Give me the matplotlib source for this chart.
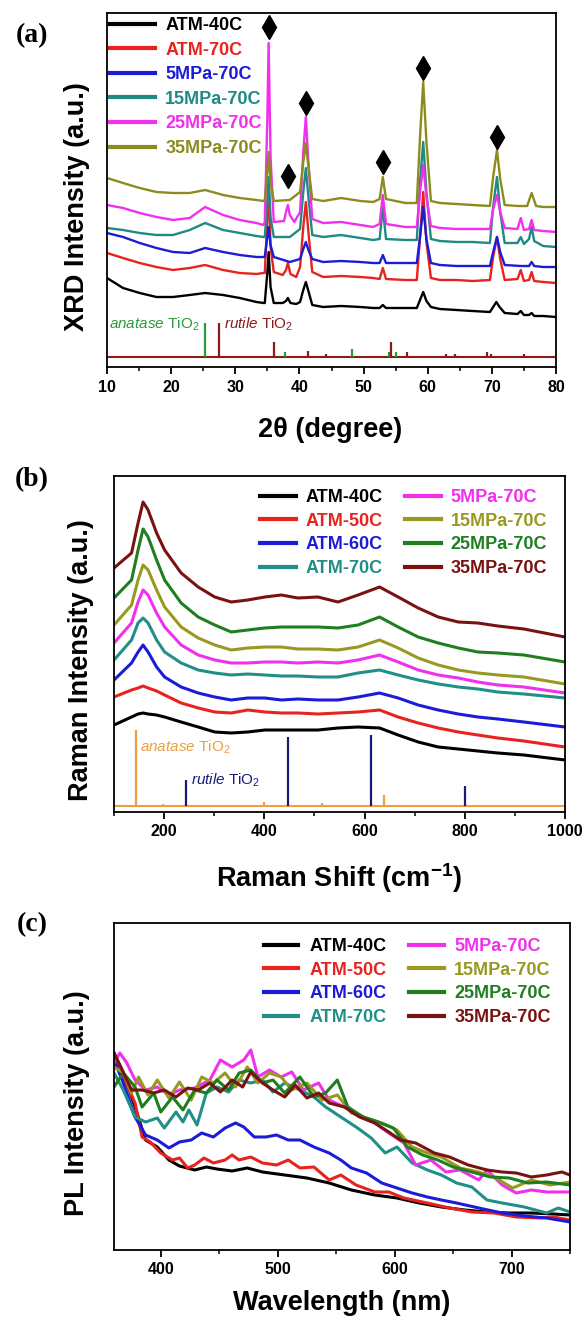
import matplotlib
matplotlib.use("Agg")
import matplotlib.pyplot as plt
from matplotlib.ticker import MultipleLocator

plt.rcParams["font.family"] = ["Liberation Sans", "DejaVu Sans"]
plt.rcParams["font.weight"] = "bold"
plt.rcParams["mathtext.fontset"] = "custom"
plt.rcParams["mathtext.rm"] = "Liberation Sans"
plt.rcParams["mathtext.it"] = "Liberation Sans:italic:normal"
plt.rcParams["mathtext.bf"] = "Liberation Sans:bold"
plt.rcParams["mathtext.default"] = "regular"

# ---------------- (a) XRD ----------------
xrd_labels = ["ATM-40C", "ATM-70C", "5MPa-70C", "15MPa-70C", "25MPa-70C", "35MPa-70C"]
xrd_colors = ["#000000", "#e8231f", "#1c1cd8", "#1f8a84", "#f030ec", "#8c8c1e"]

base_2t = [10, 12.5, 15.1, 17.7, 20.3, 22.9, 25.3, 28.1, 30.7, 33.3, 34.4]

atm40_2t = base_2t + [34.6, 35.0, 35.2, 35.5, 36.0, 37.4, 37.9, 38.2, 38.6, 39.5,
                      40.1, 40.6, 41.0, 41.4, 42.0, 43.7, 46.5, 49.5, 51.5, 52.5,
                      53.0, 53.5, 56.5, 58.3, 58.8, 59.3, 59.8, 60.5, 61.9, 64.5,
                      67.0, 69.7, 70.2, 70.7, 71.2, 72.0, 74.0, 74.5, 75.0, 75.8,
                      76.2, 76.6, 78.0, 80.0]
atm40_int = [89, 79, 74, 70, 70, 72, 74, 72, 69, 65, 64,
             64, 95, 115, 80, 64, 64, 66, 69, 64, 63,
             65, 77, 85, 76, 62, 60, 61, 60, 59, 59,
             62, 59, 59, 59, 67, 75, 66, 60, 58, 57,
             56, 55, 60, 65, 60, 54, 53, 56, 52, 52,
             54, 51, 51, 50]

atm70_2t = base_2t + [34.6, 35.0, 35.2, 35.5, 36.0, 37.4, 37.9, 38.2, 38.6, 39.5,
                      40.1, 40.6, 41.0, 41.4, 42.0, 43.7, 46.5, 49.5, 51.5, 52.5,
                      53.0, 53.5, 56.5, 58.3, 58.8, 59.3, 59.8, 60.5, 61.9, 64.5,
                      67.0, 69.7, 70.2, 70.8, 71.3, 72.0, 74.0, 74.5, 75.0, 75.8,
                      76.2, 76.6, 78.0, 80.0]
atm70_int = [114, 109, 104, 100, 97, 99, 102, 97, 94, 93, 94,
             94, 150, 185, 120, 95, 92, 97, 104, 93, 90,
             100, 140, 165, 135, 95, 90, 91, 90, 89, 88,
             99, 88, 87, 87, 130, 175, 125, 89, 87, 87,
             86, 87, 110, 130, 108, 87, 88, 97, 86, 87,
             95, 86, 85, 84]

mpa5_2t = base_2t + [34.6, 35.0, 35.2, 35.5, 36.0, 38.5, 40.1, 40.6, 41.0, 41.4,
                     42.0, 43.7, 46.5, 49.5, 51.5, 52.5, 53.0, 53.5, 56.5, 58.3,
                     58.8, 59.3, 59.8, 60.5, 61.9, 64.5, 67.0, 69.7, 70.2, 70.8,
                     71.3, 72.0, 74.5, 75.8, 76.2, 76.6, 78.0, 80.0]
mpa5_int = [134, 130, 124, 119, 115, 114, 119, 115, 112, 110, 110,
            110, 130, 140, 122, 110, 105, 108, 118, 125, 117,
            108, 105, 106, 105, 104, 104, 112, 104, 104, 104,
            130, 160, 128, 104, 102, 101, 101, 101, 115, 130,
            115, 102, 101, 101, 105, 101, 100, 100]

mpa15_2t = base_2t + [34.6, 35.0, 35.2, 35.5, 36.0, 38.5, 40.1, 40.6, 41.0, 41.4,
                      42.0, 43.7, 46.5, 49.5, 51.5, 52.5, 53.0, 53.5, 56.5, 58.3,
                      58.8, 59.3, 59.8, 60.5, 61.9, 64.5, 67.0, 69.7, 70.2, 70.8,
                      71.3, 72.0, 74.0, 74.5, 75.0, 75.8, 76.2, 76.6, 78.0, 80.0]
mpa15_int = [139, 137, 134, 132, 132, 137, 144, 137, 134, 131, 130,
             130, 165, 190, 150, 130, 130, 138, 175, 199, 170,
             132, 130, 132, 129, 127, 128, 159, 128, 127, 127,
             185, 225, 175, 128, 126, 125, 125, 124, 160, 190,
             155, 124, 124, 130, 123, 128, 140, 126, 121, 120]

mpa25_2t = base_2t + [34.6, 35.0, 35.2, 35.5, 36.0, 37.6, 37.9, 38.2, 38.5, 39.2,
                      40.1, 40.6, 41.0, 41.4, 42.0, 43.7, 46.5, 49.5, 51.5, 52.5,
                      53.0, 53.5, 56.5, 58.3, 58.8, 59.3, 59.8, 60.5, 61.9, 64.5,
                      67.0, 69.7, 70.2, 70.8, 71.3, 72.0, 74.0, 74.5, 75.0, 75.8,
                      76.2, 76.6, 78.0, 80.0]
mpa25_int = [162, 159, 154, 150, 147, 149, 160, 152, 147, 144, 142,
             145, 250, 324, 210, 145, 146, 155, 162, 152, 145,
             155, 215, 250, 205, 148, 144, 145, 142, 140, 143,
             172, 143, 140, 140, 175, 202, 170, 141, 139, 138,
             138, 138, 158, 172, 155, 139, 138, 149, 137, 138,
             147, 137, 136, 135]

mpa35_2t = base_2t + [34.6, 35.0, 35.2, 35.5, 36.0, 38.5, 40.1, 40.6, 41.0, 41.4,
                      42.0, 43.7, 46.5, 49.5, 51.5, 52.5, 53.0, 53.5, 56.5, 58.3,
                      58.8, 59.3, 59.8, 60.5, 61.9, 64.5, 67.0, 69.7, 70.2, 70.8,
                      71.3, 72.0, 74.0, 75.5, 76.2, 76.9, 78.0, 80.0]
mpa35_int = [189, 184, 179, 175, 174, 174, 177, 172, 169, 167, 166,
             167, 195, 215, 185, 166, 167, 175, 205, 224, 200,
             168, 166, 169, 166, 165, 168, 190, 168, 164, 164,
             230, 285, 225, 166, 164, 163, 162, 161, 190, 217,
             188, 162, 161, 161, 174, 161, 160, 160]

xrd_x = [atm40_2t, atm70_2t, mpa5_2t, mpa15_2t, mpa25_2t, mpa35_2t]
xrd_y = [atm40_int, atm70_int, mpa5_int, mpa15_int, mpa25_int, mpa35_int]

diamond_2t = [35.2, 38.2, 41.0, 53.0, 59.3, 70.8]
diamond_h = [340, 191, 264, 205, 299, 230]

stick_base_a = 10
anatase_a_pos = [25.3, 37.8, 48.2, 54.0, 55.1]
anatase_a_h = [44, 15, 18, 15, 15]
rutile_a_pos = [27.5, 36.1, 41.3, 44.1, 54.3, 56.8, 62.8, 64.2, 69.2, 69.9, 75.0]
rutile_a_h = [44, 25, 16, 13, 25, 15, 13, 13, 15, 13, 13]

# ---------------- (b) Raman ----------------
series8 = ["ATM-40C", "ATM-50C", "ATM-60C", "ATM-70C",
           "5MPa-70C", "15MPa-70C", "25MPa-70C", "35MPa-70C"]
colors8 = ["#000000", "#e8231f", "#1c1cd8", "#1f8f88",
           "#f030ec", "#999922", "#1f7f1f", "#7a1212"]

raman_shift = [100, 135, 148, 158, 168, 185, 201, 234, 268, 301, 334, 367, 401, 434,
               467, 507, 547, 587, 630, 667, 707, 747, 787, 826, 866, 918, 1000]
raman_atm40 = [87, 95, 98, 99, 98, 97, 95, 90, 85, 80, 79, 80, 82, 82,
               82, 82, 84, 85, 84, 77, 70, 65, 63, 61, 59, 57, 52]
raman_atm50 = [115, 122, 124, 126, 124, 121, 117, 109, 104, 100, 99, 102, 100, 99,
               99, 98, 99, 100, 102, 95, 89, 84, 80, 77, 74, 71, 65]
raman_atm60 = [132, 149, 160, 167, 160, 145, 135, 125, 119, 115, 112, 114, 114, 112,
               113, 112, 112, 115, 119, 114, 107, 102, 98, 95, 93, 90, 85]
raman_atm70 = [152, 172, 189, 194, 189, 172, 160, 149, 142, 139, 137, 138, 137, 136,
               136, 135, 135, 139, 142, 137, 132, 128, 125, 123, 120, 118, 114]
raman_5mpa = [169, 189, 210, 222, 217, 199, 185, 167, 157, 152, 149, 149, 150, 150,
              149, 150, 149, 152, 157, 150, 142, 137, 134, 130, 127, 125, 119]
raman_15mpa = [187, 207, 232, 247, 242, 222, 205, 185, 174, 167, 162, 164, 165, 165,
               163, 163, 162, 165, 172, 164, 154, 147, 142, 139, 137, 135, 128]
raman_25mpa = [214, 232, 262, 283, 275, 252, 232, 209, 195, 187, 180, 182, 184, 185,
               185, 185, 184, 187, 195, 185, 175, 169, 164, 160, 159, 157, 150]
raman_35mpa = [244, 259, 289, 310, 302, 279, 262, 239, 225, 215, 210, 212, 215, 217,
               214, 215, 210, 217, 225, 215, 204, 195, 190, 189, 186, 183, 175]
raman_y = [raman_atm40, raman_atm50, raman_atm60, raman_atm70,
           raman_5mpa, raman_15mpa, raman_25mpa, raman_35mpa]

stick_base_b = 6
anatase_b_pos = [144, 197, 399, 515, 639]
anatase_b_h = [82, 8, 10, 9, 17]
rutile_b_pos = [243, 447, 612, 800]
rutile_b_h = [32, 75, 77, 26]

# ---------------- (c) PL ----------------
pl_x_atm40 = [360, 368, 378, 387, 397, 407, 416, 429, 439, 448, 461, 474, 487, 506, 525,
              544, 563, 583, 602, 621, 640, 660, 679, 698, 717, 736, 750]
pl_atm40 = [197, 177, 143, 110, 103, 90, 84, 80, 83, 81, 79, 82, 78, 75, 72,
            67, 60, 55, 52, 47, 43, 40, 38, 37, 37, 36, 35]
pl_x_atm50 = [360, 368, 378, 384, 391, 400, 410, 416, 423, 429, 437, 445, 455, 461, 467,
              477, 487, 499, 509, 519, 531, 544, 554, 567, 583, 595, 608, 628, 647, 666,
              685, 704, 724, 736, 750]
pl_atm50 = [193, 173, 147, 113, 108, 97, 90, 92, 82, 85, 92, 87, 90, 95, 90,
            93, 87, 85, 90, 82, 83, 70, 75, 65, 58, 58, 52, 47, 42, 38,
            37, 33, 32, 33, 30]
pl_x_atm60 = [360, 368, 378, 387, 397, 407, 416, 426, 435, 445, 455, 464, 471, 480, 490,
              499, 509, 519, 531, 544, 554, 563, 576, 589, 602, 615, 628, 640, 653, 672,
              692, 711, 730, 750]
pl_atm60 = [190, 167, 133, 115, 110, 102, 108, 110, 117, 113, 122, 127, 123, 113, 113,
            115, 110, 110, 103, 97, 90, 82, 77, 67, 62, 57, 53, 50, 47, 42,
            37, 34, 32, 28]
pl_x_atm70 = [360, 368, 378, 387, 397, 403, 413, 419, 424, 431, 439, 448, 458, 467, 477,
              487, 496, 506, 519, 531, 541, 554, 567, 580, 592, 602, 615, 628, 640, 653,
              666, 679, 692, 711, 730, 740, 750]
pl_atm70 = [177, 160, 133, 128, 132, 122, 138, 128, 140, 125, 157, 163, 158, 170, 167,
            170, 158, 167, 160, 153, 143, 133, 123, 112, 97, 103, 87, 80, 75, 67,
            63, 50, 47, 43, 37, 42, 38]
pl_x_5mpa = [360, 365, 371, 378, 387, 397, 407, 416, 429, 442, 451, 461, 471, 477, 483,
             493, 503, 512, 522, 535, 544, 557, 570, 583, 595, 608, 618, 631, 644, 656,
             672, 679, 692, 704, 717, 730, 750]
pl_5mpa = [187, 197, 187, 170, 160, 163, 155, 160, 162, 170, 190, 183, 190, 200, 173,
           180, 173, 178, 160, 167, 150, 143, 135, 127, 117, 107, 85, 90, 78, 80,
           70, 80, 65, 57, 60, 58, 58]
pl_x_15mpa = [360, 368, 375, 381, 389, 397, 407, 416, 426, 435, 445, 455, 464, 474, 483,
              493, 503, 512, 525, 538, 551, 563, 576, 589, 602, 615, 628, 640, 656, 672,
              685, 701, 717, 733, 750]
pl_15mpa = [183, 177, 157, 173, 155, 170, 152, 168, 150, 173, 167, 177, 163, 183, 167,
            177, 173, 160, 167, 150, 155, 137, 132, 127, 120, 103, 97, 93, 82, 78,
            73, 62, 70, 65, 68]
pl_x_25mpa = [360, 368, 378, 384, 394, 400, 410, 419, 429, 439, 448, 458, 467, 477, 487,
              496, 506, 519, 531, 541, 551, 560, 573, 586, 599, 611, 624, 637, 650, 666,
              682, 698, 714, 730, 750]
pl_25mpa = [163, 177, 163, 143, 157, 138, 153, 140, 160, 157, 170, 160, 177, 180, 167,
            170, 157, 173, 153, 157, 170, 143, 133, 128, 122, 103, 95, 90, 83, 78,
            73, 72, 67, 68, 65]
pl_x_35mpa = [360, 367, 375, 384, 394, 403, 413, 423, 432, 442, 451, 461, 470, 477, 487,
              496, 506, 515, 525, 535, 544, 557, 570, 583, 595, 605, 618, 634, 647, 663,
              679, 692, 704, 717, 730, 743, 750]
pl_35mpa = [197, 180, 160, 160, 157, 160, 153, 162, 160, 167, 158, 170, 163, 178, 167,
            160, 153, 165, 152, 157, 147, 143, 133, 127, 118, 110, 107, 97, 93, 85,
            80, 78, 77, 73, 75, 78, 75]
pl_x = [pl_x_atm40, pl_x_atm50, pl_x_atm60, pl_x_atm70,
        pl_x_5mpa, pl_x_15mpa, pl_x_25mpa, pl_x_35mpa]
pl_y = [pl_atm40, pl_atm50, pl_atm60, pl_atm70, pl_5mpa, pl_15mpa, pl_25mpa, pl_35mpa]

W, H = 587, 1318


def axes_px(fig, left, top, right, bottom):
    return fig.add_axes([left / W, 1 - bottom / H, (right - left) / W, (bottom - top) / H])


def style_axes(ax, major, minor):
    for s in ax.spines.values():
        s.set_linewidth(1.3)
    ax.xaxis.set_major_locator(MultipleLocator(major))
    ax.xaxis.set_minor_locator(MultipleLocator(minor))
    ax.tick_params(axis="x", which="major", direction="out", length=5, width=1.3,
                   labelsize=11.5, pad=4)
    ax.tick_params(axis="x", which="minor", direction="out", length=3, width=1.1)
    ax.set_yticks([])
    for lab in ax.get_xticklabels():
        lab.set_fontweight("bold")


def style_legend(leg):
    for t in leg.get_texts():
        t.set_fontweight("bold")
    for l in leg.get_lines():
        l.set_linewidth(3)


fig = plt.figure(figsize=(W / 100, H / 100), dpi=100)

# ---- panel a
ax = axes_px(fig, 107, 13, 556, 367)
for xs, ys, c, lab in zip(xrd_x, xrd_y, xrd_colors, xrd_labels):
    ax.plot(xs, ys, color=c, lw=1.7, label=lab)
ax.plot(diamond_2t, diamond_h, "kd", ms=12, ls="none")
ax.hlines(stick_base_a, 10, 80, color="#8b1a1a", lw=1.5)
ax.vlines(anatase_a_pos, stick_base_a, anatase_a_h, color="#2a9a3a", lw=1.6)
ax.vlines(rutile_a_pos, stick_base_a, rutile_a_h, color="#8b1a1a", lw=1.6)
ax.text(10.3, 38, r"$\mathit{anatase}$ TiO$_2$", color="#2a9a3a", fontsize=11,
        fontweight="normal", va="baseline")
ax.text(28.2, 38, r"$\mathit{rutile}$ TiO$_2$", color="#8b1a1a", fontsize=11,
        fontweight="normal", va="baseline")
ax.set_xlim(10, 80)
ax.set_ylim(0, 354)
style_axes(ax, 10, 5)
style_legend(ax.legend(loc="upper left", bbox_to_anchor=(0.007, 1 - 4 / 354), frameon=False,
                       fontsize=13, labelcolor="linecolor", handlelength=2.5,
                       handletextpad=0.55, labelspacing=0.42, borderpad=0, borderaxespad=0))

# ---- panel b
ax = axes_px(fig, 114, 476, 565, 812)
for ys, c, lab in zip(raman_y, colors8, series8):
    ax.plot(raman_shift, ys, color=c, lw=2.2, label=lab)
ax.hlines(stick_base_b, 100, 1000, color="#e8a040", lw=1.5)
ax.vlines(anatase_b_pos, stick_base_b, anatase_b_h, color="#e8a040", lw=1.6)
ax.vlines(rutile_b_pos, stick_base_b, rutile_b_h, color="#1a1a7a", lw=1.6)
ax.text(151, 60, r"$\mathit{anatase}$ TiO$_2$", color="#e8a040", fontsize=11,
        fontweight="normal", va="baseline")
ax.text(254, 27, r"$\mathit{rutile}$ TiO$_2$", color="#1a1a7a", fontsize=11,
        fontweight="normal", va="baseline")
ax.set_xlim(100, 1000)
ax.set_ylim(0, 336)
style_axes(ax, 200, 100)
style_legend(ax.legend(loc="upper left", bbox_to_anchor=(0.324, 1 - 13 / 336), frameon=False,
                       ncol=2, fontsize=13, labelcolor="linecolor", handlelength=2.0,
                       handletextpad=0.5, labelspacing=0.37, columnspacing=1.27,
                       borderpad=0, borderaxespad=0))

# ---- panel c
ax = axes_px(fig, 114, 923, 570, 1250)
for xs, ys, c, lab in zip(pl_x, pl_y, colors8, series8):
    ax.plot(xs, ys, color=c, lw=2.2, label=lab)
ax.set_xlim(360, 750)
ax.set_ylim(0, 327)
style_axes(ax, 100, 50)
style_legend(ax.legend(loc="upper left", bbox_to_anchor=(0.329, 1 - 15 / 327), frameon=False,
                       ncol=2, fontsize=13, labelcolor="linecolor", handlelength=1.9,
                       handletextpad=0.6, labelspacing=0.37, columnspacing=1.27,
                       borderpad=0, borderaxespad=0))


# ---- axis titles and panel letters
def ftext(x, y, s, **kw):
    fig.text(x / W, 1 - y / H, s, ha="center", va="center", **kw)


ftext(330, 430, "2θ (degree)", fontsize=19.5, fontweight="bold")
ftext(339, 878, r"Raman Shift (cm$^{-1}$)", fontsize=19.5, fontweight="bold")
ftext(342, 1303, "Wavelength (nm)", fontsize=19.5, fontweight="bold")
ftext(77, 207, "XRD Intensity (a.u.)", fontsize=19.5, fontweight="bold", rotation=90)
ftext(81, 660, "Raman Intensity (a.u.)", fontsize=19.5, fontweight="bold", rotation=90)
ftext(77, 1103, "PL Intensity (a.u.)", fontsize=19.5, fontweight="bold", rotation=90)
for lab, y in [("(a)", 36), ("(b)", 480), ("(c)", 925)]:
    ftext(32, y, lab, fontsize=20, fontweight="bold", family="Liberation Serif")

fig.savefig("out.png", dpi=100)
